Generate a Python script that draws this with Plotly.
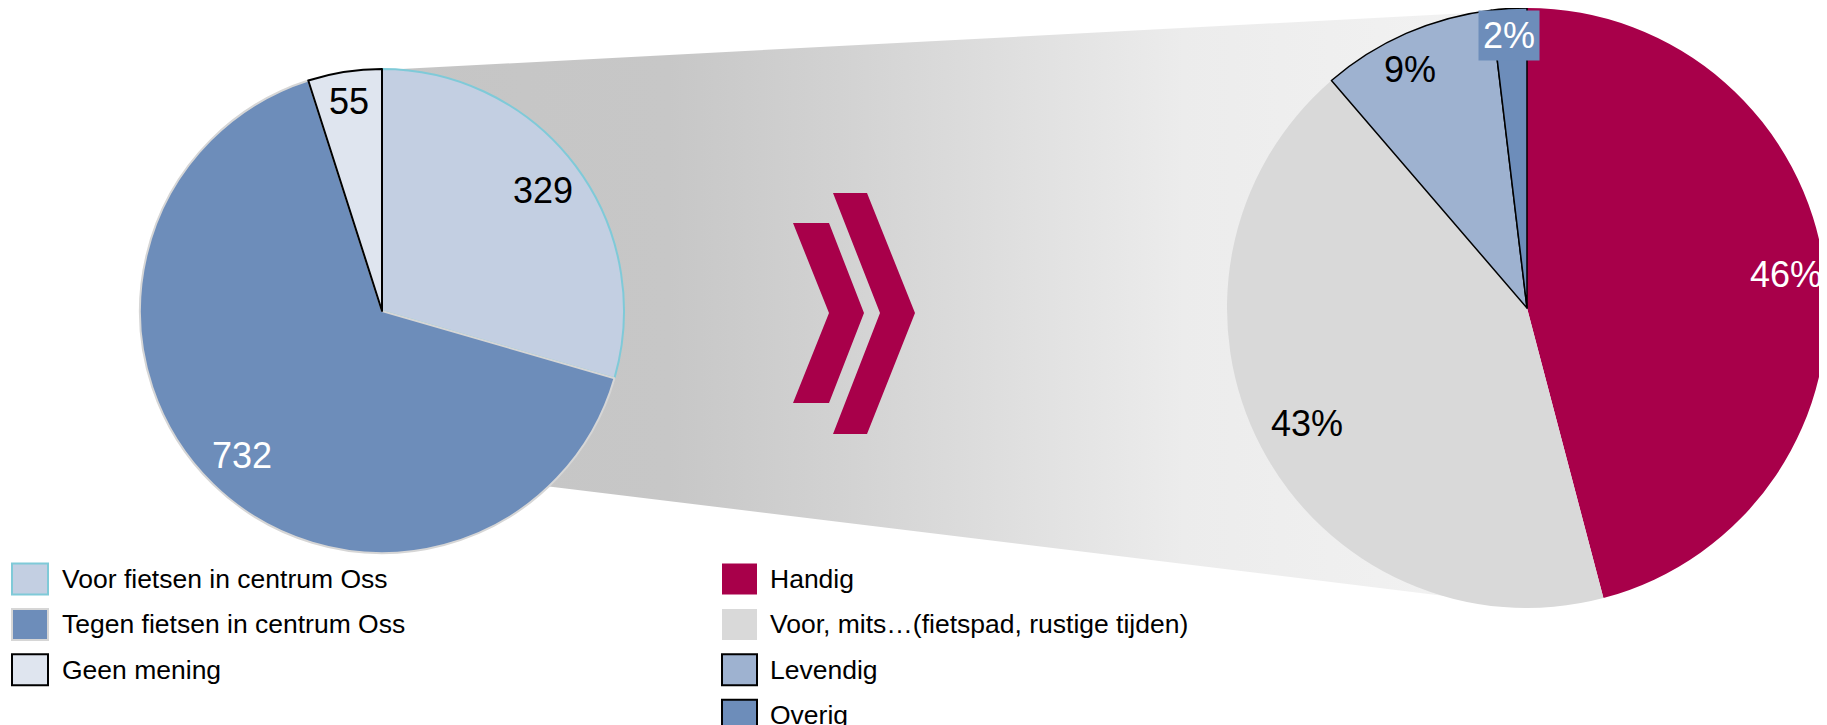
import math
import plotly.graph_objects as go

# reference canvas (pixels) and page offset of the plot div (default body margin)
W, H = 1827, 725
OFF = 8
FW, FH = W - OFF, H - OFF
FONT = "Liberation Sans, Arial, sans-serif"

# ---- data ----
left_labels = ["Voor fietsen in centrum Oss", "Tegen fietsen in centrum Oss", "Geen mening"]
left_values = [329, 732, 55]

right_labels = ["Handig", "Voor, mits…(fietspad, rustige tijden)", "Levendig", "Overig"]
right_values = [45.9, 42.8, 9.4, 1.9]

# ---- styles ----
left_colors = ["#c3cfe2", "#6d8dba", "#dfe5ef"]
left_line_colors = ["#7fcad8", "#d6d6d6", "#000000"]
left_line_widths = [2, 2, 2]
left_text_colors = ["#000000", "#ffffff", "#000000"]
left_label_r = [0.83, 0.83, 0.875]
left_label_dx = [0, 0, 0]

right_colors = ["#a8004a", "#d9d9d9", "#9eb2d0", "#6d8dba"]
right_line_colors = ["#a8004a", "#d9d9d9", "#000000", "#000000"]
right_line_widths = [0, 0, 1.5, 1.5]
right_text_colors = ["#ffffff", "#000000", "#000000", "#ffffff"]
right_label_r = [0.87, 0.83, 0.87, 0.91]
right_label_dx = [0, 0, -12, -2]
right_label_bg = [None, None, None, "#6d8dba"]

LEGEND_FONT = 26.5

# pie geometry (reference pixels)
L_CX, L_CY, L_R = 382, 311, 242
R_CX, R_CY, R_R = 1527, 308, 300


def domain(cx, cy, r):
    fx0, fx1 = cx - r - OFF, cx + r - OFF
    fy = cy - OFF
    return dict(x=[max(0.0, fx0 / FW), min(1.0, fx1 / FW)],
                y=[max(0.0, (FH - fy - r) / FH), min(1.0, (FH - fy + r) / FH)])


fig = go.Figure()

# connector band with horizontal gradient (behind pies)
fig.add_trace(go.Scatter(
    x=[L_CX, R_CX, R_CX, L_CX], y=[70, 10, 606, 466],
    mode="lines", line=dict(width=0), fill="toself",
    fillgradient=dict(type="horizontal",
                      colorscale=[[0, "#c5c5c5"], [0.25, "#c7c7c7"], [0.4, "#d2d2d2"],
                                  [0.7, "#ececec"], [1, "#f3f3f3"]]),
    hoverinfo="skip", showlegend=False))

fig.add_trace(go.Pie(
    labels=left_labels, values=left_values, sort=False, direction="clockwise",
    rotation=0, textinfo="none", showlegend=False,
    marker=dict(colors=left_colors, line=dict(color=left_line_colors, width=left_line_widths)),
    domain=domain(L_CX, L_CY, L_R)))

fig.add_trace(go.Pie(
    labels=right_labels, values=right_values, sort=False, direction="clockwise",
    rotation=0, textinfo="none", showlegend=False,
    marker=dict(colors=right_colors, line=dict(color=right_line_colors, width=right_line_widths)),
    domain=domain(R_CX, R_CY, R_R)))

annotations = []


def slice_labels(values, texts, cx, cy, r, fracs, dxs, colors, bgs=None):
    total = float(sum(values))
    cum = 0.0
    for i, v in enumerate(values):
        mid = (cum + v / 2.0) / total * 2 * math.pi
        cum += v
        x = cx + r * fracs[i] * math.sin(mid)
        y = cy - r * fracs[i] * math.cos(mid)
        a = dict(x=x, y=y, xref="x", yref="y", text=texts[i], showarrow=False,
                 xshift=dxs[i],
                 font=dict(family=FONT, size=36, color=colors[i]),
                 xanchor="center", yanchor="middle")
        if bgs and bgs[i]:
            a.update(bgcolor=bgs[i], borderpad=4)
        annotations.append(a)


slice_labels(left_values, [str(v) for v in left_values], L_CX, L_CY, L_R,
             left_label_r, left_label_dx, left_text_colors)
slice_labels(right_values, [f"{v:.0f}%" for v in right_values], R_CX, R_CY, R_R,
             right_label_r, right_label_dx, right_text_colors, right_label_bg)

shapes = []
# chevrons
CHEV = "#a8004a"
shapes.append(dict(type="path", xref="x", yref="y",
                   path="M793,223 L829,223 L864,313 L829,403 L793,403 L829,313 Z",
                   fillcolor=CHEV, line=dict(width=0)))
shapes.append(dict(type="path", xref="x", yref="y",
                   path="M833,193 L867,193 L915,313 L867,434 L833,434 L880,313 Z",
                   fillcolor=CHEV, line=dict(width=0)))

# legends (drawn manually for large swatches)
ROW0, STEP, HALF = 579, 45.4, 15.5


def legend(labels, colors, lcolors, lwidths, x0, x1, tx, fsize):
    for i, lab in enumerate(labels):
        yc = ROW0 + i * STEP
        lw = lwidths[i] if lwidths[i] > 0 else 0
        shapes.append(dict(type="rect", xref="x", yref="y", x0=x0, x1=x1,
                           y0=yc - HALF, y1=yc + HALF, fillcolor=colors[i],
                           line=dict(color=lcolors[i], width=lw)))
        annotations.append(dict(x=tx, y=yc, xref="x", yref="y", text=lab, showarrow=False,
                                xanchor="left", yanchor="middle",
                                font=dict(family=FONT, size=fsize, color="#000000")))


legend(left_labels, left_colors, left_line_colors, left_line_widths, 12, 48, 60, LEGEND_FONT)
legend(right_labels, right_colors, right_line_colors, [0, 0, 2, 2], 722, 757, 768, LEGEND_FONT)

fig.update_layout(
    width=FW, height=FH, autosize=False,
    margin=dict(l=0, r=0, t=0, b=0),
    paper_bgcolor="white", plot_bgcolor="rgba(0,0,0,0)",
    xaxis=dict(range=[OFF, W], visible=False, fixedrange=True),
    yaxis=dict(range=[H, OFF], visible=False, fixedrange=True),
    shapes=shapes, annotations=annotations,
    font=dict(family=FONT),
    showlegend=False,
)

fig.write_html("out.html")
